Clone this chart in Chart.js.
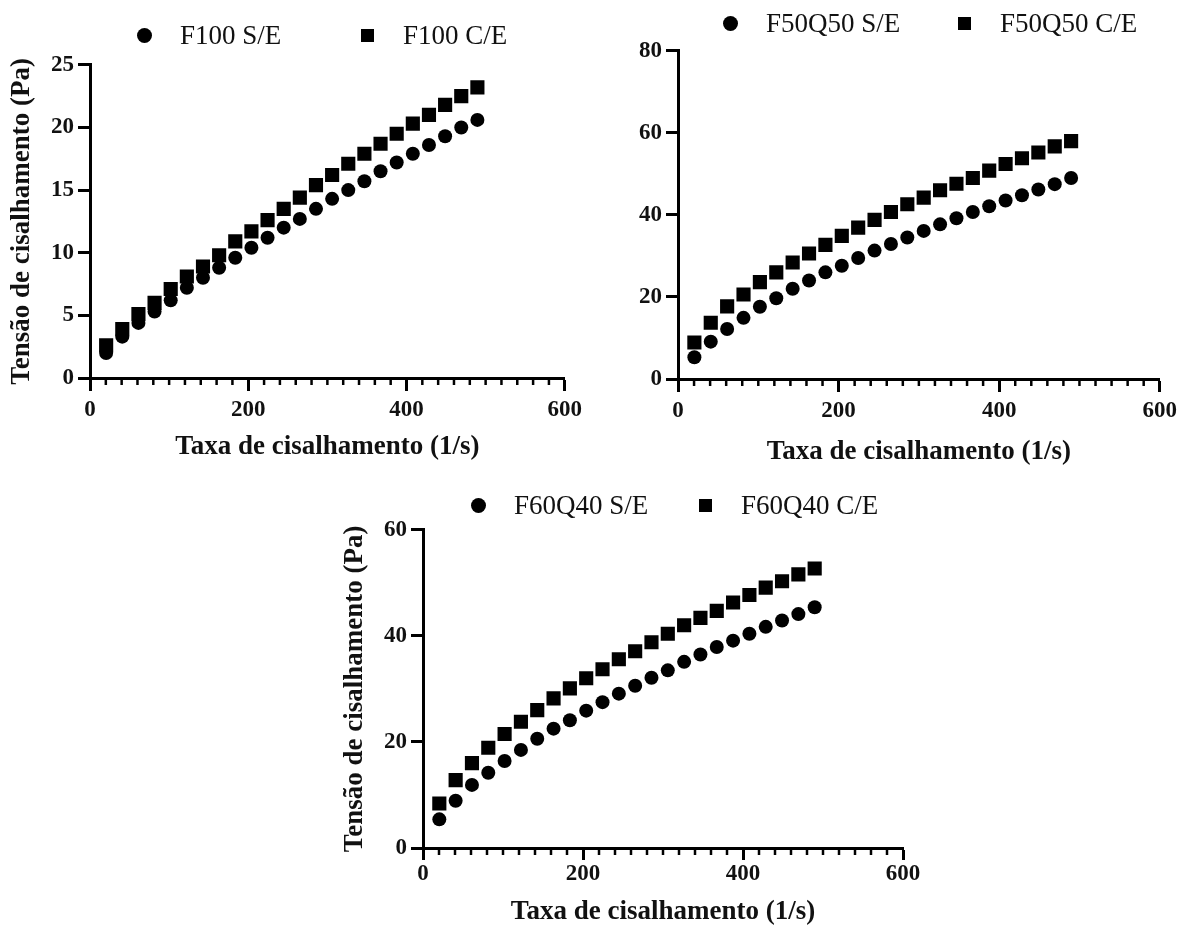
<!DOCTYPE html>
<html>
<head>
<meta charset="utf-8">
<script src="https://cdn.jsdelivr.net/npm/chart.js@4.4.1/dist/chart.umd.min.js"></script>
<style>
  body { margin: 0; background: #fff; width: 1202px; height: 934px; position: relative; overflow: hidden;
         font-family: 'Liberation Serif', 'Times New Roman', serif; }
  canvas { position: absolute; }
  .legend-item { position: absolute; display: flex; align-items: center; font-size: 27px; line-height: 30px;
                 color: #111; white-space: nowrap; transform: translateY(-50%); }
  .legend-item .mk { display: inline-block; background: #000; flex: none; }
  .legend-item .mk.circle { width: 15px; height: 15px; border-radius: 50%; margin-right: 28px; }
  .legend-item .mk.square { width: 13px; height: 13px; margin-left: 1px; margin-right: 29px; }
</style>
</head>
<body>
<canvas id="c1"></canvas>
<canvas id="c2"></canvas>
<canvas id="c3"></canvas>

<script>
// shear rate (1/s), shared by all series
const shearRate = [20.4, 40.8, 61.2, 81.6, 102, 122.4, 142.8, 163.2, 183.6, 204, 224.4, 244.8,
                   265.2, 285.6, 306, 326.4, 346.8, 367.2, 387.6, 408, 428.4, 448.8, 469.2, 489.6];

// shear stress (Pa)
const f100SE = [2.0, 3.3, 4.4, 5.3, 6.2, 7.2, 8.0, 8.8, 9.6, 10.4, 11.2, 12.0,
                12.7, 13.5, 14.3, 15.0, 15.7, 16.5, 17.2, 17.9, 18.6, 19.3, 20.0, 20.6];
const f100CE = [2.6, 3.9, 5.1, 6.0, 7.1, 8.1, 8.9, 9.8, 10.9, 11.7, 12.6, 13.5,
                14.4, 15.4, 16.2, 17.1, 17.9, 18.7, 19.5, 20.3, 21.0, 21.8, 22.5, 23.2];
const f50q50SE = [5.3, 9.1, 12.2, 14.9, 17.6, 19.7, 22.0, 24.0, 26.0, 27.6, 29.5, 31.3,
                  32.9, 34.5, 36.1, 37.7, 39.2, 40.7, 42.1, 43.5, 44.8, 46.2, 47.5, 49.0];
const f50q50CE = [8.9, 13.7, 17.7, 20.6, 23.6, 26.0, 28.4, 30.6, 32.7, 34.9, 36.9, 38.8,
                  40.7, 42.6, 44.2, 46.0, 47.6, 49.0, 50.8, 52.4, 53.8, 55.2, 56.7, 58.0];
const f60q40SE = [5.4, 8.9, 11.9, 14.2, 16.4, 18.5, 20.6, 22.5, 24.1, 25.9, 27.5, 29.1,
                  30.6, 32.1, 33.5, 35.1, 36.5, 37.9, 39.1, 40.4, 41.7, 42.9, 44.1, 45.4];
const f60q40CE = [8.4, 12.8, 16.0, 18.9, 21.5, 23.8, 26.0, 28.2, 30.1, 32.0, 33.7, 35.6,
                  37.1, 38.8, 40.4, 42.0, 43.4, 44.7, 46.3, 47.7, 49.1, 50.3, 51.6, 52.7];

const labels1 = ['F100 S/E', 'F100 C/E'];
const labels2 = ['F50Q50 S/E', 'F50Q50 C/E'];
const labels3 = ['F60Q40 S/E', 'F60Q40 C/E'];

// axes
const xMax = 600, xStep = 200, xMinorStep = 20;
const yMax1 = 25, yStep1 = 5;
const yMax2 = 80, yStep2 = 20;
const yMax3 = 60, yStep3 = 20;
const xTitle = 'Taxa de cisalhamento (1/s)';
const yTitle = 'Tensão de cisalhamento (Pa)';

const FONT = "'Liberation Serif', 'Times New Roman', serif";

// small outward ticks every 20 on the x axis
const minorTicks = {
    id: 'minorTicks',
    afterDraw(chart) {
        const xs = chart.scales.x;
        const ctx = chart.ctx;
        ctx.save();
        ctx.strokeStyle = '#000';
        ctx.lineWidth = 2.5;
        for (let v = xMinorStep; v < xs.max; v += xMinorStep) {
            if (v % xStep === 0) continue;
            const px = xs.getPixelForValue(v);
            ctx.beginPath();
            ctx.moveTo(px, xs.top);
            ctx.lineTo(px, xs.top + 7);
            ctx.stroke();
        }
        ctx.restore();
    }
};

const toPoints = ys => ys.map((y, i) => ({ x: shearRate[i], y }));

function makeChart(id, box, series, labels, yMax, yStep, showYTitle) {
    const canvas = document.getElementById(id);
    canvas.width = box.w;
    canvas.height = box.h;
    canvas.style.left = box.left + 'px';
    canvas.style.top = box.top + 'px';
    canvas.style.width = box.w + 'px';
    canvas.style.height = box.h + 'px';

    new Chart(canvas.getContext('2d'), {
        type: 'scatter',
        data: {
            datasets: [
                { label: labels[0], data: toPoints(series[0]), pointStyle: 'circle', pointRadius: 7,
                  backgroundColor: '#000', borderColor: '#000', borderWidth: 0 },
                { label: labels[1], data: toPoints(series[1]), pointStyle: 'rect', pointRadius: 10,
                  backgroundColor: '#000', borderColor: '#000', borderWidth: 0 }
            ]
        },
        options: {
            responsive: false,
            animation: false,
            events: [],
            layout: { padding: { top: 15, right: 20, left: 0, bottom: 0 } },
            plugins: { legend: { display: false }, tooltip: { enabled: false } },
            scales: {
                x: {
                    type: 'linear', min: 0, max: xMax,
                    afterFit: s => { s.height = box.xH; },
                    border: { display: true, color: '#000', width: 3 },
                    grid: { drawOnChartArea: false, drawTicks: true, tickLength: box.tl, tickWidth: 3, tickColor: '#000' },
                    ticks: { stepSize: xStep, color: '#111', padding: box.tp, maxRotation: 0,
                             font: { family: FONT, size: 23, weight: 'bold' } },
                    title: { display: true, text: xTitle, color: '#111', padding: 0,
                             font: { family: FONT, size: 27, weight: 'bold', lineHeight: 1.2 } }
                },
                y: {
                    type: 'linear', min: 0, max: yMax,
                    afterFit: s => { s.width = box.yW; },
                    border: { display: true, color: '#000', width: 3 },
                    grid: { drawOnChartArea: false, drawTicks: true, tickLength: 12, tickWidth: 3, tickColor: '#000' },
                    ticks: { stepSize: yStep, color: '#111', padding: 4,
                             font: { family: FONT, size: 23, weight: 'bold' } },
                    title: { display: showYTitle, text: yTitle, color: '#111', padding: 0,
                             font: { family: FONT, size: 27, weight: 'bold', lineHeight: 1.2 } }
                }
            }
        },
        plugins: [minorTicks]
    });
}

function makeLegend(items) {
    items.forEach(it => {
        const el = document.createElement('div');
        el.className = 'legend-item';
        el.style.left = (it.cx - 8) + 'px';
        el.style.top = it.cy + 'px';
        const mk = document.createElement('span');
        mk.className = 'mk ' + it.shape;
        el.appendChild(mk);
        el.appendChild(document.createTextNode(it.text));
        document.body.appendChild(el);
    });
}

makeChart('c1', { left: 6, top: 47, w: 581, h: 416, yW: 84, xH: 85, tl: 13, tp: 5 },
          [f100SE, f100CE], labels1, yMax1, yStep1, true);
makeChart('c2', { left: 628, top: 33, w: 554, h: 435, yW: 50, xH: 89, tl: 13, tp: 5 },
          [f50q50SE, f50q50CE], labels2, yMax2, yStep2, false);
makeChart('c3', { left: 339, top: 512, w: 584, h: 416, yW: 84, xH: 80, tl: 12, tp: 0 },
          [f60q40SE, f60q40CE], labels3, yMax3, yStep3, true);

makeLegend([
    { cx: 145, cy: 35, shape: 'circle', text: labels1[0] },
    { cx: 368, cy: 35, shape: 'square', text: labels1[1] },
    { cx: 731, cy: 23, shape: 'circle', text: labels2[0] },
    { cx: 965, cy: 23, shape: 'square', text: labels2[1] },
    { cx: 479, cy: 505, shape: 'circle', text: labels3[0] },
    { cx: 706, cy: 505, shape: 'square', text: labels3[1] }
]);
</script>
</body>
</html>
